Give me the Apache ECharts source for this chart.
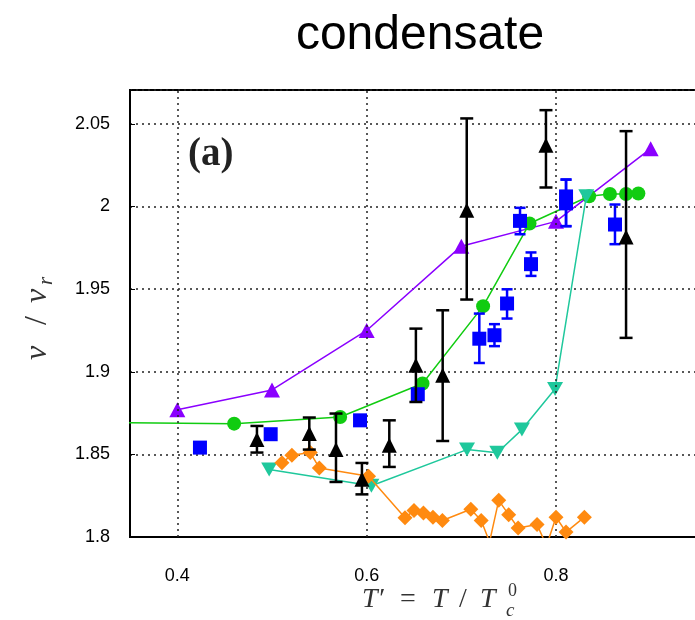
<!DOCTYPE html>
<html><head><meta charset="utf-8">
<script src="https://cdn.jsdelivr.net/npm/echarts@6/dist/echarts.min.js"></script>
<style>html,body{margin:0;padding:0;background:#fff}#c{width:695px;height:620px}</style>
</head><body><div id="c"></div>
<script>
// Tick labels
const xTickLabels = [0.4, 0.6, 0.8];
const yTickLabels = [1.8, 1.85, 1.9, 1.95, 2, 2.05];

// Purple up-triangles
const purpleX = [0.4, 0.5, 0.6, 0.7, 0.8, 0.9];
const purpleY = [1.877, 1.889, 1.925, 1.976, 1.991, 2.035];

// Green circles (first point lies left of the visible range)
const greenX = [0.30, 0.46, 0.572, 0.659, 0.723, 0.772, 0.835, 0.857, 0.874, 0.887];
const greenY = [1.8693, 1.8686, 1.8726, 1.8929, 1.9397, 1.9897, 2.0062, 2.0076, 2.0076, 2.0079];

// Teal down-triangles
const tealX = [0.497, 0.605, 0.706, 0.738, 0.764, 0.799, 0.832];
const tealY = [1.8408, 1.831, 1.8529, 1.851, 1.865, 1.8896, 2.0062];

// Orange diamonds
const orangeX = [0.5105, 0.521, 0.5404, 0.550, 0.602, 0.6405, 0.650, 0.660, 0.670, 0.680, 0.710, 0.721, 0.7298, 0.7395, 0.750, 0.760, 0.780, 0.790, 0.800, 0.8106, 0.830];
const orangeY = [1.845, 1.8495, 1.8511, 1.8418, 1.8368, 1.8117, 1.816, 1.8145, 1.812, 1.810, 1.8168, 1.810, 1.797, 1.8222, 1.8135, 1.8055, 1.8075, 1.7947, 1.812, 1.803, 1.812];

// Blue squares with error bars
const blueX  = [0.4239, 0.4986, 0.593, 0.654, 0.719, 0.735, 0.7483, 0.762, 0.7736, 0.8106, 0.8106, 0.8623];
const blueY  = [1.8541, 1.8622, 1.8706, 1.8864, 1.920, 1.9221, 1.9413, 1.9913, 1.9651, 2.0061, 2.0019, 1.9891];
const blueLo = [null, null, null, null, 1.9053, 1.9155, 1.9322, 1.9832, 1.958, 1.9881, 1.9881, 1.9772];
const blueHi = [null, null, null, null, 1.9352, 1.9288, 1.9499, 1.9992, 1.9722, 2.0163, 2.0163, 2.0012];

// Black up-triangles with error bars
const blackX  = [0.4841, 0.5394, 0.5676, 0.595, 0.6239, 0.652, 0.6803, 0.7057, 0.7894, 0.874];
const blackY  = [1.859, 1.8626, 1.8529, 1.8349, 1.8555, 1.9039, 1.8979, 1.9978, 2.0371, 1.9816];
const blackLo = [1.8511, 1.8529, 1.8333, 1.8258, 1.8424, 1.8817, 1.8581, 1.9437, 2.0115, 1.9205];
const blackHi = [1.8672, 1.8723, 1.8747, 1.8448, 1.8706, 1.9261, 1.9372, 2.0533, 2.0583, 2.0456];

const zip = (a, b) => a.map((v, i) => [v, b[i]]);
const errData = (x, lo, hi) => x.map((v, i) => [v, lo[i], hi[i]]).filter(d => d[1] != null);

function errRender(color, capW, lw) {
  return function (params, api) {
    const x = api.value(0), lo = api.value(1), hi = api.value(2);
    const p1 = api.coord([x, lo]), p2 = api.coord([x, hi]);
    const st = { stroke: color, lineWidth: lw, fill: null };
    return {
      type: 'group',
      children: [
        { type: 'line', shape: { x1: p1[0], y1: p1[1], x2: p2[0], y2: p2[1] }, style: st },
        { type: 'line', shape: { x1: p1[0] - capW / 2, y1: p1[1], x2: p1[0] + capW / 2, y2: p1[1] }, style: st },
        { type: 'line', shape: { x1: p2[0] - capW / 2, y1: p2[1], x2: p2[0] + capW / 2, y2: p2[1] }, style: st }
      ]
    };
  };
}

const chart = echarts.init(document.getElementById('c'), null, { renderer: 'canvas' });
const C_PURPLE = '#8a00ff', C_GREEN = '#11cc11', C_TEAL = '#1fc89c', C_ORANGE = '#ff8a10', C_BLUE = '#0000ff';
const SERIF = '"Liberation Serif", "DejaVu Serif", serif';
const LBL = '#333';

chart.setOption({
  animation: false,
  backgroundColor: '#fff',
  grid: {
    left: 130, top: 90, width: 568, height: 447, outerBoundsMode: 'none', containLabel: false,
    show: true, borderColor: '#000', borderWidth: 2, backgroundColor: 'transparent'
  },
  xAxis: {
    type: 'value', min: 0.35, max: 0.95, interval: 0.05,
    axisLine: { show: true, lineStyle: { color: '#000', width: 2 } },
    axisTick: { show: false },
    splitLine: { show: false },
    axisLabel: {
      margin: 30, color: '#000', fontSize: 18, fontFamily: 'Liberation Sans, Arial, sans-serif',
      formatter: v => (xTickLabels.some(t => Math.abs(t - v) < 1e-6) ? v.toFixed(1) : '')
    }
  },
  yAxis: {
    type: 'value', min: 1.8, max: 2.0705, interval: 0.05,
    axisLine: { show: true, lineStyle: { color: '#000', width: 2 } },
    axisTick: { show: true, inside: true, length: 5, lineStyle: { color: '#000', width: 1 } },
    splitLine: { show: true, lineStyle: { color: '#222', type: [2, 4], width: 1.5 } },
    axisLabel: {
      margin: 20, color: '#000', fontSize: 18, fontFamily: 'Liberation Sans, Arial, sans-serif',
      formatter: v => {
        const hit = yTickLabels.find(t => Math.abs(t - v) < 1e-6);
        return hit === undefined ? '' : String(hit);
      }
    }
  },
  graphic: [
    { type: 'text', x: 420, y: 12, style: { text: 'condensate', align: 'center', font: '48px "Liberation Sans", Arial, sans-serif', fill: '#000' } },
    { type: 'text', x: 188, y: 135, style: { text: '(a)', font: 'bold 39px ' + SERIF, fill: '#222' } },
    // x-axis title: T' = T / T_c^0
    { type: 'text', x: 362, y: 586, style: { text: 'T\u2032', font: 'italic 28px ' + SERIF, fill: LBL } },
    { type: 'text', x: 400, y: 586, style: { text: '=', font: '28px ' + SERIF, fill: LBL } },
    { type: 'text', x: 432, y: 586, style: { text: 'T', font: 'italic 28px ' + SERIF, fill: LBL } },
    { type: 'text', x: 459, y: 586, style: { text: '/', font: '28px ' + SERIF, fill: LBL } },
    { type: 'text', x: 480, y: 586, style: { text: 'T', font: 'italic 28px ' + SERIF, fill: LBL } },
    { type: 'text', x: 508, y: 582, style: { text: '0', font: '18px ' + SERIF, fill: LBL } },
    { type: 'text', x: 506, y: 601, style: { text: 'c', font: 'italic 19px ' + SERIF, fill: LBL } },
    // y-axis title: nu / nu_r (rotated, reading upward)
    { type: 'text', x: 22, y: 360, rotation: Math.PI / 2, style: { text: '\u03BD', font: 'italic 32px ' + SERIF, fill: LBL } },
    { type: 'text', x: 22, y: 325, rotation: Math.PI / 2, style: { text: '/', font: '32px ' + SERIF, fill: LBL } },
    { type: 'text', x: 22, y: 303, rotation: Math.PI / 2, style: { text: '\u03BD', font: 'italic 32px ' + SERIF, fill: LBL } },
    { type: 'text', x: 36, y: 285, rotation: Math.PI / 2, style: { text: 'r', font: 'italic 21px ' + SERIF, fill: LBL } }
  ],
  series: [
    {
      type: 'line', data: zip(purpleX, purpleY), symbol: 'triangle', symbolSize: [16, 15],
      itemStyle: { color: C_PURPLE }, lineStyle: { color: C_PURPLE, width: 1.5 }, z: 2,
      markLine: {
        silent: true, symbol: 'none', label: { show: false },
        lineStyle: { color: '#222', type: [2, 4], width: 1.5 },
        data: xTickLabels.map(v => ({ xAxis: v }))
      }
    },
    {
      type: 'line', data: zip(greenX, greenY), symbol: 'circle', symbolSize: 14,
      itemStyle: { color: C_GREEN }, lineStyle: { color: C_GREEN, width: 1.5 }, z: 3
    },
    {
      type: 'line', data: zip(tealX, tealY), symbol: 'triangle', symbolRotate: 180, symbolSize: [16, 14],
      itemStyle: { color: C_TEAL }, lineStyle: { color: C_TEAL, width: 1.5 }, z: 4
    },
    {
      type: 'line', data: zip(orangeX, orangeY), symbol: 'diamond', symbolSize: 15,
      itemStyle: { color: C_ORANGE }, lineStyle: { color: C_ORANGE, width: 1.5 }, z: 5
    },
    {
      type: 'custom', data: errData(blueX, blueLo, blueHi), renderItem: errRender(C_BLUE, 11, 2.5), z: 6, clip: true,
      encode: { x: 0, y: [1, 2] }
    },
    {
      type: 'scatter', data: zip(blueX, blueY), symbol: 'rect', symbolSize: 14,
      itemStyle: { color: C_BLUE, opacity: 1 }, z: 7
    },
    {
      type: 'custom', data: errData(blackX, blackLo, blackHi), renderItem: errRender('#000', 13, 2.5), z: 8, clip: true,
      encode: { x: 0, y: [1, 2] }
    },
    {
      type: 'scatter', data: zip(blackX, blackY), symbol: 'triangle', symbolSize: [15, 15],
      itemStyle: { color: '#000', opacity: 1 }, z: 9
    }
  ]
});
</script>
</body></html>
